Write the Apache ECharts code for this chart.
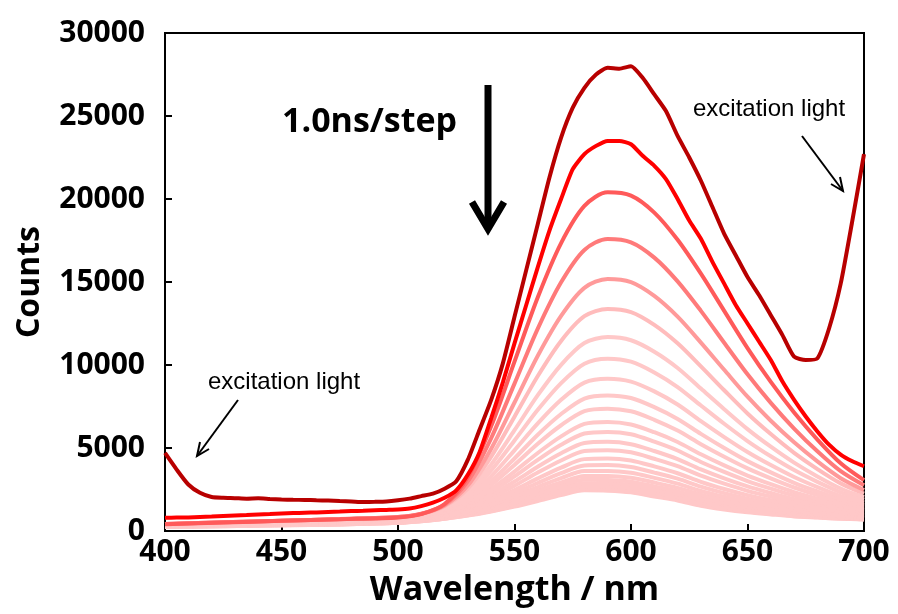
<!DOCTYPE html>
<html>
<head>
<meta charset="utf-8">
<script src="https://cdn.jsdelivr.net/npm/echarts@6/dist/echarts.min.js"></script>
<style>
  html, body { margin: 0; padding: 0; background: #fff; }
  #chart { width: 898px; height: 614px; }
</style>
</head>
<body>
<div id="chart"></div>
<script>
// wavelength grids (nm)
const wl5 = [400, 405, 410, 415, 420, 425, 430, 435, 440, 445, 450, 455, 460, 465, 470, 475, 480, 485, 490, 495,
  500, 505, 510, 515, 520, 525, 530, 535, 540, 545, 550, 555, 560, 565, 570, 575, 580, 585, 590, 595,
  600, 605, 610, 615, 620, 625, 630, 635, 640, 645, 650, 655, 660, 665, 670, 675, 680, 685, 690, 695, 700];
const wl25 = [400, 425, 450, 475, 500, 510, 520, 530, 540, 550, 560, 570, 580, 590, 600,
  610, 620, 630, 640, 650, 660, 670, 680, 690, 700];

// first step (with excitation light), on wl5
const step01 = [4700, 3700, 2800, 2300, 2050, 2000, 1980, 1950, 1970, 1930, 1900, 1880, 1870, 1850, 1830, 1800, 1780, 1750, 1760, 1780,
  1850, 1950, 2100, 2250, 2550, 3000, 4300, 6100, 7900, 10100, 12900, 15700, 18500, 21300, 23700, 25500, 26700, 27500, 27900, 27850,
  28000, 27300, 26300, 25300, 23800, 22500, 21100, 19500, 17900, 16600, 15300, 14200, 13000, 11800, 10500, 10300, 10400, 12200, 14900, 18700, 22700];
// second step, on wl5
const step02 = [800, 810, 820, 850, 870, 900, 930, 960, 1000, 1020, 1050, 1080, 1100, 1120, 1150, 1170, 1200, 1220, 1250, 1270,
  1290, 1350, 1500, 1710, 2000, 2450, 3400, 4750, 6800, 8950, 11300, 13600, 15900, 18100, 20000, 21800, 22700, 23200, 23500, 23500,
  23300, 22600, 22000, 21200, 20000, 18700, 17600, 16200, 14900, 13600, 12500, 11400, 10300, 9000, 7900, 6900, 6000, 5200, 4600, 4200, 3900];

// later steps, on wl25
const step03 = [410, 510, 610, 710, 820, 1020, 1630, 3260, 6320, 10200, 14080, 17340, 19580, 20400, 20200, 19180, 17540, 15500, 13260, 11020, 8980, 7140, 5510, 4080, 3060];
const step04 = [420, 520, 620, 720, 840, 1040, 1590, 3000, 5600, 8880, 12190, 14980, 16930, 17590, 17390, 16470, 15040, 13260, 11340, 9440, 7720, 6170, 4800, 3600, 2750];
const step05 = [420, 520, 620, 710, 840, 1030, 1530, 2750, 4960, 7740, 10560, 12960, 14650, 15180, 14990, 14160, 12910, 11350, 9710, 8090, 6640, 5340, 4190, 3180, 2470];
const step06 = [420, 520, 610, 710, 840, 1030, 1490, 2570, 4480, 6890, 9340, 11450, 12940, 13380, 13190, 12420, 11310, 9920, 8480, 7080, 5840, 4710, 3730, 2870, 2260];
const step07 = [410, 500, 600, 690, 820, 1010, 1430, 2360, 4010, 6070, 8180, 10010, 11320, 11680, 11490, 10800, 9820, 8580, 7340, 6140, 5080, 4120, 3290, 2560, 2040];
const step08 = [410, 500, 580, 670, 810, 990, 1380, 2210, 3650, 5450, 7300, 8910, 10080, 10380, 10200, 9550, 8670, 7560, 6460, 5420, 4500, 3670, 2960, 2330, 1880];
const step09 = [390, 480, 570, 650, 790, 960, 1310, 2050, 3300, 4860, 6480, 7900, 8940, 9170, 9000, 8410, 7620, 6620, 5660, 4760, 3970, 3250, 2640, 2100, 1720];
const step10 = [380, 460, 550, 630, 770, 930, 1260, 1910, 3010, 4370, 5800, 7050, 7980, 8170, 8010, 7460, 6750, 5850, 5000, 4210, 3530, 2900, 2380, 1910, 1590];
const step11 = [370, 450, 530, 610, 750, 910, 1210, 1800, 2770, 3980, 5250, 6370, 7220, 7370, 7210, 6700, 6050, 5230, 4470, 3770, 3170, 2620, 2170, 1760, 1480];
const step12 = [360, 430, 510, 590, 720, 870, 1150, 1680, 2530, 3580, 4700, 5700, 6450, 6570, 6420, 5950, 5360, 4620, 3950, 3340, 2820, 2340, 1950, 1600, 1360];
const step13 = [350, 420, 490, 570, 700, 840, 1110, 1590, 2350, 3290, 4280, 5190, 5870, 5970, 5830, 5380, 4850, 4160, 3560, 3010, 2550, 2130, 1790, 1490, 1270];
const step14 = [330, 400, 470, 540, 670, 810, 1050, 1490, 2160, 2980, 3870, 4680, 5300, 5370, 5230, 4820, 4330, 3710, 3170, 2690, 2290, 1920, 1630, 1360, 1180];
const step15 = [320, 390, 450, 520, 640, 780, 1010, 1400, 2000, 2730, 3520, 4250, 4820, 4870, 4740, 4350, 3910, 3330, 2850, 2420, 2070, 1740, 1490, 1260, 1100];
const step16 = [310, 370, 430, 490, 610, 740, 950, 1300, 1830, 2470, 3170, 3820, 4330, 4370, 4250, 3890, 3480, 2960, 2530, 2160, 1850, 1570, 1350, 1150, 1010];
const step17 = [290, 350, 410, 470, 590, 710, 910, 1230, 1690, 2270, 2890, 3480, 3950, 3970, 3850, 3520, 3150, 2670, 2280, 1950, 1680, 1430, 1240, 1070, 950];
const step18 = [280, 340, 400, 450, 560, 680, 870, 1160, 1570, 2090, 2650, 3180, 3610, 3620, 3510, 3200, 2850, 2410, 2060, 1760, 1530, 1300, 1140, 990, 890];
const step19 = [270, 330, 380, 440, 540, 650, 830, 1100, 1470, 1930, 2440, 2920, 3320, 3320, 3210, 2920, 2600, 2190, 1870, 1600, 1400, 1200, 1060, 930, 830];
const step20 = [260, 320, 370, 420, 530, 630, 800, 1050, 1390, 1800, 2260, 2710, 3080, 3070, 2970, 2690, 2390, 2000, 1710, 1470, 1290, 1110, 990, 870, 790];
const step21 = [260, 310, 360, 410, 510, 620, 780, 1010, 1320, 1700, 2130, 2540, 2880, 2880, 2770, 2500, 2220, 1860, 1590, 1370, 1200, 1040, 930, 830, 760];
const step22 = [250, 300, 350, 400, 500, 600, 750, 970, 1250, 1590, 1990, 2370, 2690, 2680, 2580, 2320, 2050, 1710, 1460, 1260, 1110, 970, 880, 780, 720];
const step23 = [250, 290, 340, 390, 490, 590, 740, 940, 1200, 1520, 1880, 2240, 2550, 2530, 2430, 2180, 1930, 1600, 1370, 1180, 1050, 920, 830, 750, 700];
const step24 = [250, 290, 340, 390, 490, 590, 740, 930, 1180, 1470, 1810, 2160, 2450, 2430, 2330, 2080, 1840, 1520, 1300, 1130, 1000, 880, 810, 740, 690];

const laterSteps = [step03, step04, step05, step06, step07, step08, step09, step10, step11, step12, step13, step14,
  step15, step16, step17, step18, step19, step20, step21, step22, step23, step24];
const laterColors = ['#FF5A5A', '#FF7A7A', '#FF9A9A', '#FFBCBC'];

const xTicks = { min: 400, max: 700, interval: 50 };
const yTicks = { min: 0, max: 30000, interval: 5000 };

function pairs(xs, ys) {
  return xs.map((x, i) => [x, ys[i]]);
}

const series = [];
// lightest (latest) drawn first so the early steps sit on top
for (let i = laterSteps.length - 1; i >= 0; i--) {
  series.push({
    type: 'line',
    data: pairs(wl25, laterSteps[i]),
    showSymbol: false,
    smooth: 0.3,
    lineStyle: { width: 4, color: laterColors[i] || '#FFC8C8' },
  });
}
series.push({
  type: 'line',
  data: pairs(wl5, step02),
  showSymbol: false,
  smooth: 0.2,
  lineStyle: { width: 4, color: '#FF0000' },
});
series.push({
  type: 'line',
  data: pairs(wl5, step01),
  showSymbol: false,
  smooth: 0.2,
  lineStyle: { width: 4, color: '#B80000' },
});

const boldFont = 'Open Sans';

const myChart = echarts.init(document.getElementById('chart'));
myChart.setOption({
  animation: false,
  grid: {
    left: 165,
    right: 34,
    top: 33,
    bottom: 83,
    show: true,
    borderColor: '#000',
    borderWidth: 2,
  },
  xAxis: {
    type: 'value',
    min: xTicks.min,
    max: xTicks.max,
    interval: xTicks.interval,
    name: 'Wavelength / nm',
    nameLocation: 'middle',
    nameGap: 42,
    nameTextStyle: { color: '#000', fontFamily: boldFont, fontWeight: 'bold', fontSize: 34 },
    axisLine: { lineStyle: { color: '#000', width: 2 } },
    axisTick: { inside: true, length: 7, lineStyle: { color: '#000', width: 2 } },
    axisLabel: { color: '#000', fontFamily: boldFont, fontWeight: 'bold', fontSize: 30, margin: 6 },
    splitLine: { show: false },
  },
  yAxis: {
    type: 'value',
    min: yTicks.min,
    max: yTicks.max,
    interval: yTicks.interval,
    name: 'Counts',
    nameLocation: 'middle',
    nameGap: 119,
    nameTextStyle: { color: '#000', fontFamily: boldFont, fontWeight: 'bold', fontSize: 32 },
    axisLine: { lineStyle: { color: '#000', width: 2 } },
    axisTick: { inside: true, length: 7, lineStyle: { color: '#000', width: 2 } },
    axisLabel: {
      color: '#000', fontFamily: boldFont, fontWeight: 'bold', fontSize: 30, margin: 20,
      formatter: (v) => String(v),
    },
    splitLine: { show: false },
  },
  series: series,
  graphic: [
    {
      type: 'text',
      x: 282,
      y: 122,
      style: {
        text: '1.0ns/step',
        font: 'bold 34px "Open Sans"',
        fill: '#000',
        verticalAlign: 'middle',
      },
    },
    {
      type: 'line',
      shape: { x1: 488, y1: 85, x2: 488, y2: 226 },
      style: { stroke: '#000', lineWidth: 7 },
    },
    {
      type: 'polyline',
      shape: { points: [[472, 202], [488, 229], [504, 202]] },
      style: { stroke: '#000', lineWidth: 7, fill: null, lineJoin: 'miter' },
    },
    {
      type: 'text',
      x: 208,
      y: 382,
      style: {
        text: 'excitation light',
        font: '24px "Liberation Sans"',
        fill: '#000',
        verticalAlign: 'middle',
      },
    },
    {
      type: 'line',
      shape: { x1: 238, y1: 400, x2: 197, y2: 456 },
      style: { stroke: '#000', lineWidth: 2 },
    },
    {
      type: 'polyline',
      shape: { points: [[209, 449], [197, 456], [200, 442]] },
      style: { stroke: '#000', lineWidth: 2, fill: null },
    },
    {
      type: 'text',
      x: 693,
      y: 109,
      style: {
        text: 'excitation light',
        font: '24px "Liberation Sans"',
        fill: '#000',
        verticalAlign: 'middle',
      },
    },
    {
      type: 'line',
      shape: { x1: 802, y1: 136, x2: 843, y2: 191 },
      style: { stroke: '#000', lineWidth: 2 },
    },
    {
      type: 'polyline',
      shape: { points: [[840, 177], [843, 191], [831, 184]] },
      style: { stroke: '#000', lineWidth: 2, fill: null },
    },
  ],
});
</script>
</body>
</html>
